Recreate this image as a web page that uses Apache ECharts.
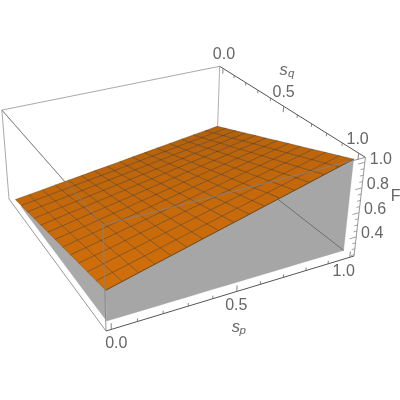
<!DOCTYPE html>
<html><head><meta charset="utf-8">
<style>html,body{margin:0;padding:0;background:#fff}#c{width:400px;height:400px}</style>
<script src="https://cdn.jsdelivr.net/npm/echarts@6/dist/echarts.min.js"></script>
</head><body><div id="c"></div>
<script>
// ---- data ----
const spGrid = [0,.0625,.125,.1875,.25,.3125,.375,.4375,.5,.5625,.625,.6875,.75,.8125,.875,.9375,1];
const sqGrid = [0,.0833,.1667,.25,.3333,.4167,.5,.5833,.6667,.75,.8333,.9167,1];
const fValues = [
[.250,.266,.281,.297,.313,.328,.344,.359,.375,.391,.406,.422,.438,.453,.469,.484,.500],
[.271,.288,.305,.322,.339,.355,.372,.389,.406,.423,.440,.457,.474,.491,.508,.525,.542],
[.292,.310,.328,.346,.365,.383,.401,.419,.438,.456,.474,.492,.510,.529,.547,.565,.583],
[.313,.332,.352,.371,.391,.410,.430,.449,.469,.488,.508,.527,.547,.566,.586,.605,.625],
[.333,.354,.375,.396,.417,.438,.458,.479,.500,.521,.542,.563,.583,.604,.625,.646,.667],
[.354,.376,.398,.421,.443,.465,.487,.509,.531,.553,.576,.598,.620,.642,.664,.686,.708],
[.375,.398,.422,.445,.469,.492,.516,.539,.563,.586,.609,.633,.656,.680,.703,.727,.750],
[.396,.421,.445,.470,.495,.520,.544,.569,.594,.618,.643,.668,.693,.717,.742,.767,.792],
[.417,.443,.469,.495,.521,.547,.573,.599,.625,.651,.677,.703,.729,.755,.781,.807,.833],
[.438,.465,.492,.520,.547,.574,.602,.629,.656,.684,.711,.738,.766,.793,.820,.848,.875],
[.458,.487,.516,.544,.573,.602,.630,.659,.688,.716,.745,.773,.802,.831,.859,.888,.917],
[.479,.509,.539,.569,.599,.629,.659,.689,.719,.749,.779,.809,.839,.869,.898,.928,.958],
[.500,.531,.563,.594,.625,.656,.688,.719,.750,.781,.813,.844,.875,.906,.938,.969,1.0]
];
const fBase = 0.255;
const spRange = [-0.02, 1.02];
const sqRange = [-0.03, 1.04];
const fRange = [0.238, 1.038];
const spTicks = [0,.1,.2,.3,.4,.5,.6,.7,.8,.9,1];
const sqTicks = [0,.1,.2,.3,.4,.5,.6,.7,.8,.9,1];
const fTicks = [.25,.3,.35,.4,.45,.5,.55,.6,.65,.7,.75,.8,.85,.9,.95,1];
const spLabels = ['0.0','0.5','1.0'];
const sqLabels = ['0.0','0.5','1.0'];
const fLabels = ['0.4','0.6','0.8','1.0'];

// ---- camera: homogeneous projection of the unit box to the 400x400 frame ----
const cam = {O:[106,331], Ex:[354,256], Ey:[9,199], Ez:[103,225], wx:1.116, wy:1.27, wz:0.94};
function project(sp,sq,f){
  const X=(sp-spRange[0])/(spRange[1]-spRange[0]);
  const Y=1-(sq-sqRange[0])/(sqRange[1]-sqRange[0]);
  const Z=(f-fRange[0])/(fRange[1]-fRange[0]);
  const d=1+(cam.wx-1)*X+(cam.wy-1)*Y+(cam.wz-1)*Z;
  const c=k=>(cam.O[k]+(cam.wx*cam.Ex[k]-cam.O[k])*X+(cam.wy*cam.Ey[k]-cam.O[k])*Y+(cam.wz*cam.Ez[k]-cam.O[k])*Z)/d;
  return [c(0),c(1)];
}
const P=(api,p)=>api.coord(project(p[0],p[1],p[2]));
const s0=spRange[0],s1=spRange[1],q0=sqRange[0],q1=sqRange[1],f0=fRange[0],f1=fRange[1];
const TXT='#666666', FONT='"Liberation Sans",Arial,sans-serif';

function lineSeries(list){
  return {type:'custom',coordinateSystem:'cartesian2d',silent:true,clip:false,animation:false,
    data:list.map(()=>[0,0]),
    renderItem(params,api){
      const e=list[params.dataIndex];
      const pa=P(api,e.a),pb=P(api,e.b);
      return {type:'line',shape:{x1:pa[0],y1:pa[1],x2:pb[0],y2:pb[1]},style:{stroke:e.color,lineWidth:e.w||1,fill:null}};
    }};
}
function polySeries(list){
  return {type:'custom',coordinateSystem:'cartesian2d',silent:true,clip:false,animation:false,
    data:list.map(()=>[0,0]),
    renderItem(params,api){
      const e=list[params.dataIndex];
      return {type:'polygon',shape:{points:e.pts.map(p=>P(api,p))},
        style:{fill:e.fill,stroke:e.stroke||e.fill,lineWidth:e.w==null?0.4:e.w}};
    }};
}
function textSeries(list){
  return {type:'custom',coordinateSystem:'cartesian2d',silent:true,clip:false,animation:false,
    data:list.map(()=>[0,0]),
    renderItem(params,api){
      const e=list[params.dataIndex];
      const c=P(api,e.p);
      return {type:'text',style:{x:c[0]+e.dx,y:c[1]+e.dy,text:e.text,fill:TXT,align:'center',verticalAlign:'middle',
        font:(e.italic?'italic ':'')+e.size+'px '+FONT}};
    }};
}
const backBox=[
 {a:[s0,q0,f1],b:[s1,q0,f1],color:'#aaaaaa'},
 {a:[s1,q0,f1],b:[s1,q0,f0],color:'#b0b0b0'},
 {a:[s0,q0,f1],b:[s0,q1,f1],color:'#aaaaaa'},
 {a:[s0,q0,f1],b:[s0,q0,f0],color:'#aaaaaa'},
 {a:[s1,q0,f1],b:[s1,q1,f1],color:'#555555'},
 {a:[s0,q0,f0],b:[s0,q1,f0],color:'#999999'},
 {a:[s0,q1,f0],b:[s1,q1,f0],color:'#555555'},
 {a:[s1,q1,f1],b:[s1,q1,f0],color:'#999999'}
];
const wallFront=[], wallLeft=[];
{
  const last=fValues.length-1;
  const top=spGrid.map((s,i)=>[s,1,fValues[last][i]]);
  const bot=spGrid.map(s=>[s,1,fBase]).reverse();
  wallFront.push({pts:top.concat(bot),fill:'#a6a6a6',w:0.3});
  // left wall only where the surface stands above the fill floor
  const rows=sqGrid.map((q,j)=>[q,fValues[j][0]]).filter(r=>r[1]>=fBase);
  const topL=rows.map(r=>[0,r[0],r[1]]);
  const botL=rows.map(r=>[0,r[0],fBase]).reverse();
  wallLeft.push({pts:topL.concat(botL),fill:'#a9a9a9',w:0.3});
}
const innerEdge=[{a:[1,1,fBase],b:[1,0,fBase],color:'#666666',w:0.9}];
const cells=[];
function mix(t){const a=[180,97,12],b=[208,110,10];return 'rgb('+a.map((v,k)=>Math.round(v+(b[k]-v)*t)).join(',')+')';}
const nI=spGrid.length-1,nJ=sqGrid.length-1;
for(let j=0;j<nJ;j++)for(let i=0;i<nI;i++){
  const t=((nI-1-i)/(nI-1)*0.55+j/(nJ-1)*0.45);
  cells.push({fill:mix(t),stroke:'rgba(70,48,25,0.5)',w:0.8,pts:[
    [spGrid[i],sqGrid[j],fValues[j][i]],[spGrid[i+1],sqGrid[j],fValues[j][i+1]],
    [spGrid[i+1],sqGrid[j+1],fValues[j+1][i+1]],[spGrid[i],sqGrid[j+1],fValues[j+1][i]]]});
}
const edges=[];
for(let i=0;i<nI;i++)edges.push({a:[spGrid[i],1,fValues[nJ][i]],b:[spGrid[i+1],1,fValues[nJ][i+1]],color:'#7a4a10',w:.9});
const frontBox=[
 {a:[s0,q1,f1],b:[s0,q1,f0],color:'rgba(130,130,130,0.85)'},
 {a:[s0,q0,f1],b:[s0,q1,f1],color:'rgba(130,130,130,0.8)'},
 {a:[s0,q1,f1],b:[s1,q1,f1],color:'rgba(130,130,130,0.85)'}
];
const ticks=[];
const major=v=>Math.abs(v*2-Math.round(v*2))<1e-6;
spTicks.forEach(v=>ticks.push({a:[v,q1,f0],b:[v,q1,f0+(major(v)?0.05:0.025)],color:'#666666',w:.8}));
sqTicks.forEach(v=>ticks.push({a:[s1,v,f1],b:[s1,v,f1-(major(v)?0.05:0.025)],color:'#666666',w:.8}));
fTicks.forEach(v=>{const m=Math.abs(v*5-Math.round(v*5))<1e-6;ticks.push({a:[s1,q1,v],b:[s1-(m?0.03:0.015),q1,v],color:'#888888',w:.8});});
const texts=[];
spLabels.forEach(l=>{const v=+l;texts.push({p:[v,q1,f0],dx:5-11*v,dy:14.5,text:l,size:16});});
sqLabels.forEach(l=>{const v=+l;texts.push({p:[s1,v,f1],dx:1-2*v,dy:-13.5,text:l,size:16});});
fLabels.forEach(l=>{const v=+l;texts.push({p:[s1,q1,v],dx:16,dy:-3,text:l,size:16});});
texts.push({p:[0.5,q1,f0],dx:-1,dy:36,text:'s',size:16.5,italic:true});
texts.push({p:[0.5,q1,f0],dx:6,dy:39.5,text:'p',size:11.5,italic:true});
texts.push({p:[s1,0.5,f1],dx:0,dy:-36,text:'s',size:16.5,italic:true});
texts.push({p:[s1,0.5,f1],dx:7.5,dy:-32.5,text:'q',size:11.5,italic:true});
texts.push({p:[s1,q1,0.65],dx:36,dy:-10,text:'F',size:16});

const chart=echarts.init(document.getElementById('c'),null,{renderer:'canvas'});
chart.setOption({
  animation:false,backgroundColor:'#fff',
  grid:{left:0,right:0,top:0,bottom:0},
  xAxis:{type:'value',min:0,max:400,show:false},
  yAxis:{type:'value',min:0,max:400,inverse:true,show:false},
  series:[lineSeries(backBox),polySeries(wallLeft),polySeries(wallFront),lineSeries(innerEdge),
          polySeries(cells),lineSeries(edges),lineSeries(frontBox),lineSeries(ticks),textSeries(texts)]
});
</script></body></html>
